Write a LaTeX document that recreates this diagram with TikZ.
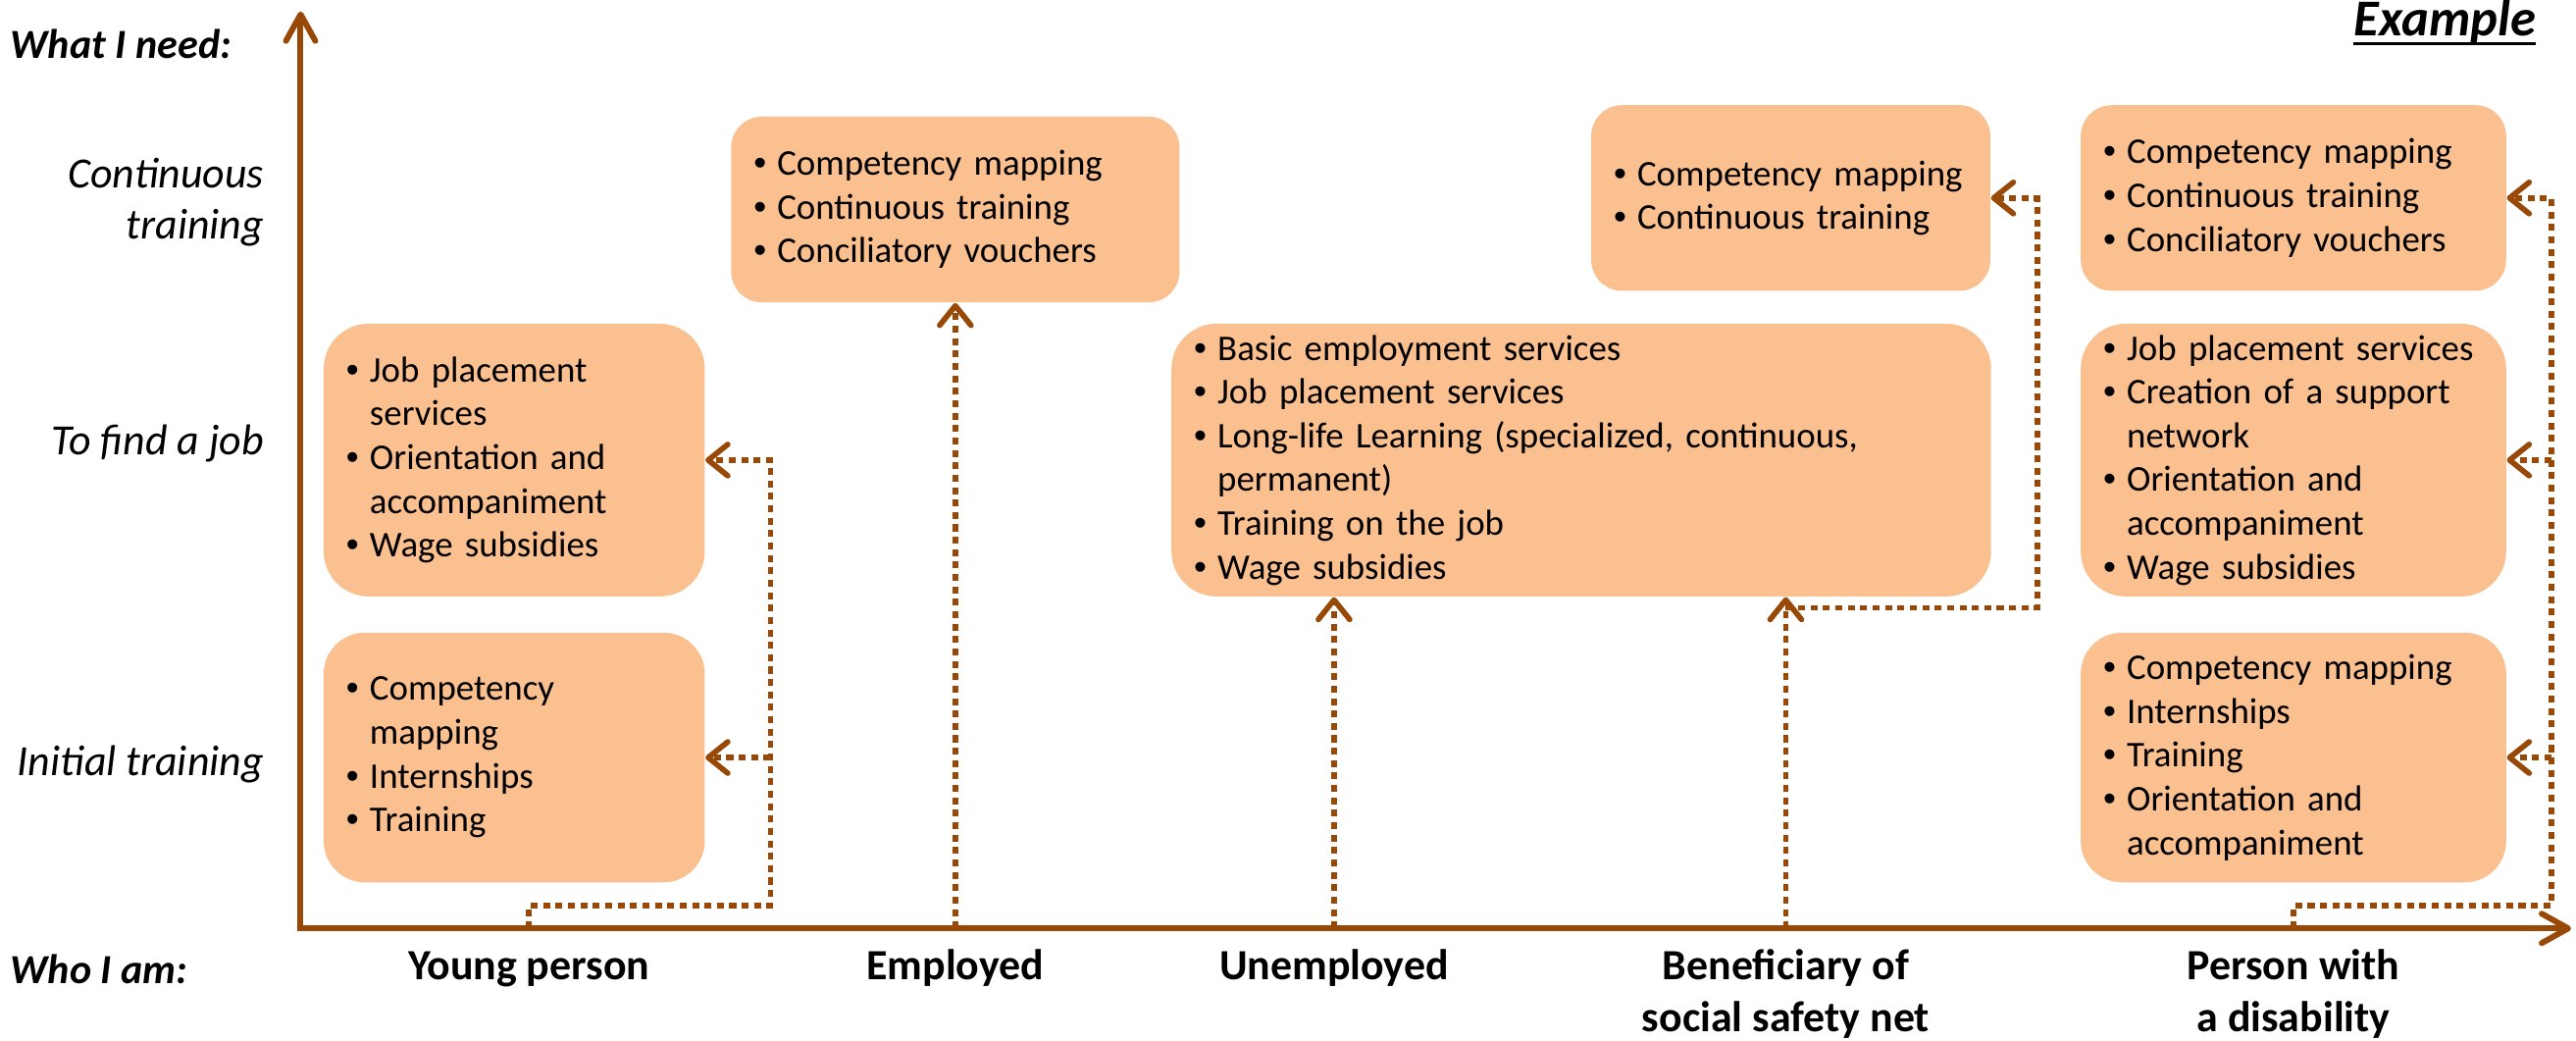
\documentclass[tikz,border=0pt]{standalone}
\usepackage{fontspec}
\setmainfont{Carlito}
\newfontfamily\bulfont{Liberation Sans}
\usetikzlibrary{arrows.meta}
\definecolor{brn}{HTML}{984807}
\definecolor{boxc}{HTML}{FAC090}
\newcommand{\bul}{\makebox[0.24cm][l]{\bulfont\char"2022}}
\newcommand{\ind}{\hspace*{0.24cm}}
\newcommand{\ulx}[1]{\setbox0\hbox{#1}\rlap{\rule[-2.6pt]{\wd0}{0.9pt}}\box0}
\begin{document}
\begin{tikzpicture}[x=0.01675cm, y=-0.01675cm,
  axis/.style={draw=brn, line width=1.7pt},
  conn/.style={draw=brn, line width=1.6pt, dash pattern=on 2pt off 1.6pt,
    -{Straight Barb[length=0.2cm,width=0.32cm,round]}},
  box/.style n args={4}{fill=boxc, rounded corners=#3cm, minimum width=#1cm,
    minimum height=#2cm, text width=#4cm, inner xsep=0.23cm, inner ysep=0pt,
    align=left, font=\fontsize{10.5}{12.7}\selectfont},
  ylab/.style={anchor=east, align=right, inner sep=0pt,
    font=\fontsize{12.5}{14.8}\selectfont\itshape},
  hlab/.style={anchor=west, inner sep=0pt,
    font=\fontsize{12}{14}\selectfont\bfseries\itshape},
  xlab/.style={anchor=base, align=center, inner sep=0pt,
    font=\fontsize{12.5}{15.2}\selectfont\bfseries},
]
\useasboundingbox (0,0) rectangle (1568,633);

% axes
\coordinate (O) at (183,565);
\coordinate (ytop) at (183,7);
\coordinate (xend) at (1565,565);
\draw[axis, {Straight Barb[length=0.27cm,width=0.3cm,round]}-{Straight Barb[length=0.27cm,width=0.3cm,round]}]
  (ytop) -- (O) -- (xend);

% boxes
\node[box={3.886}{2.546}{0.42}{3.426}] (b1) at (313,461)
  {\bul Competency\\\ind mapping\\\bul Internships\\\bul Training};
\node[box={3.886}{2.781}{0.46}{3.426}] (b2) at (313,280)
  {\bul Job placement\\\ind services\\\bul Orientation and\\\ind accompaniment\\\bul Wage subsidies};
\node[box={4.573}{1.893}{0.315}{4.113}] (b3) at (581.5,127.5)
  {\bul Competency mapping\\\bul Continuous training\\\bul Conciliatory vouchers};
\node[box={8.358}{2.781}{0.46}{7.898}] (b4) at (962.5,280)
  {\bul Basic employment services\\\bul Job placement services\\\bul Long-life Learning (specialized, continuous,\\\ind permanent)\\\bul Training on the job\\\bul Wage subsidies};
\node[box={4.07}{1.893}{0.315}{3.61}] (b5) at (1090,120.5)
  {\bul Competency mapping\\\bul Continuous training};
\node[box={4.338}{1.893}{0.315}{3.878}] (b6) at (1396,120.5)
  {\bul Competency mapping\\\bul Continuous training\\\bul Conciliatory vouchers};
\node[box={4.338}{2.781}{0.46}{3.878}] (b7) at (1396,280)
  {\bul Job placement services\\\bul Creation of a support\\\ind network\\\bul Orientation and\\\ind accompaniment\\\bul Wage subsidies};
\node[box={4.338}{2.546}{0.42}{3.878}] (b8) at (1396,461)
  {\bul Competency mapping\\\bul Internships\\\bul Training\\\bul Orientation and\\\ind accompaniment};

% labels
\node[hlab] (wn) at (6,27) {What I need:};
\node[hlab] (wi) at (6,590) {Who I am:};
\node[anchor=base east, inner sep=0pt, font=\fontsize{15}{18}\selectfont\bfseries\itshape] (ex) at (1544,22) {\ulx{Example}};
\node[ylab] (lct) at (161,123) {Continuous\\training};
\node[ylab] (lfj) at (161,270) {To find a job};
\node[ylab] (lit) at (161,465) {Initial training};

\node[xlab] (xy) at (322,596) {Young person};
\node[xlab] (xe) at (581.5,596) {Employed};
\node[xlab] (xu) at (812,596) {Unemployed};
\node[xlab] (xb) at (1087,628) {Beneficiary of\\social safety net};
\node[xlab] (xd) at (1396,628) {Person with\\a disability};

% connectors
\coordinate (sy) at (322,565);
\coordinate (se) at (581.5,565);
\coordinate (su) at (812,565);
\coordinate (sb) at (1087,565);
\coordinate (sd) at (1396,565);
\coordinate (cy) at (469,551);
\coordinate (cb) at (1240,370);
\coordinate (cd) at (1553,551);

\draw[conn] (sy) |- (cy) |- (b2.east);
\draw[conn] (cy |- b1.east) -- (b1.east);
\draw[conn] (se) -- (b3.south);
\draw[conn] (su) -- (su |- b4.south);
\draw[conn] (sb) -- (sb |- b4.south);
\draw[conn] (sb |- cb) -- (cb) |- (b5.east);
\draw[conn] (sd) |- (cd) |- (b6.east);
\draw[conn] (cd |- b7.east) -- (b7.east);
\draw[conn] (cd |- b8.east) -- (b8.east);
\end{tikzpicture}
\end{document}
